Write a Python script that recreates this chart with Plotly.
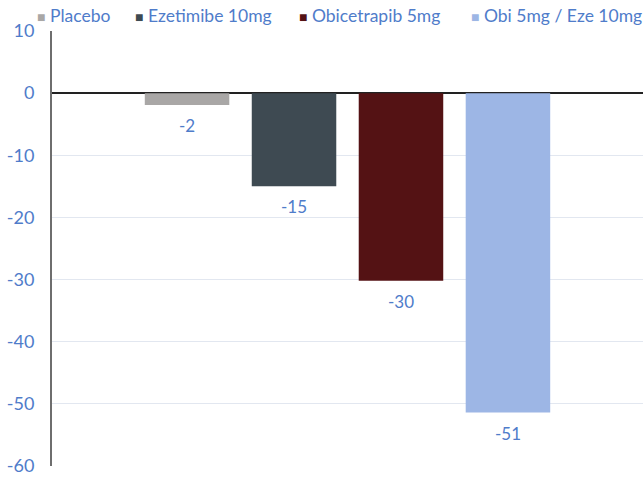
import plotly.graph_objects as go

# treatment arms and LDL-C change (%)
arms = ['Placebo', 'Ezetimibe 10mg', 'Obicetrapib 5mg', 'Obi 5mg / Eze 10mg']
values = [-1.9, -15.0, -30.2, -51.4]
labels = ['-2', '-15', '-30', '-51']
colors = ['#A9A7A6', '#3E4A52', '#541214', '#9DB6E5']

tick_vals = [10, 0, -10, -20, -30, -40, -50, -60]
tick_text = ['10', '0', '-10', '-20', '-30', '-40', '-50', '-60']

BLUE = '#4F7CCA'
W, H = 643, 477
L, R, T, B = 52, 0, 31, 11
PW = W - L - R

fig = go.Figure()
for arm, v, c in zip(arms, values, colors):
    fig.add_trace(go.Bar(x=[''], y=[v], name=arm, showlegend=False,
                         marker=dict(color=c, line=dict(width=0))))

# value labels under each bar
for i, (v, t) in enumerate(zip(values, labels)):
    fig.add_annotation(x=(i - 1.5) * 0.181, xref='x', y=v, yref='y', text=t,
                       showarrow=False, yanchor='top', yshift=-8,
                       font=dict(family='Lato', size=17, color=BLUE))

# legend row drawn as text, like the Excel-style legend in the source
legend_px = [35, 133, 297, 469]
for px, arm, c in zip(legend_px, arms, colors):
    fig.add_annotation(x=(px - L) / PW, xref='paper', y=1, yref='paper',
                       yanchor='bottom', xanchor='left', yshift=3, showarrow=False,
                       text=f'<span style="color:{c};font-size:14px">■</span> {arm}',
                       font=dict(family='Lato', size=17.5, color=BLUE))

fig.update_layout(
    width=W, height=H,
    margin=dict(l=L, r=R, t=T, b=B, autoexpand=False),
    paper_bgcolor='white', plot_bgcolor='white',
    barmode='group', bargap=0.276, bargroupgap=0.21,
    font=dict(family='Lato', color=BLUE),
    showlegend=False,
    xaxis=dict(showticklabels=False, showgrid=False, zeroline=False, showline=False,
               type='category'),
    yaxis=dict(range=[-60, 10], tickvals=tick_vals, ticktext=tick_text,
               showgrid=True, gridcolor='#E2E7F0',
               gridwidth=1, zeroline=True, zerolinecolor='#222222', zerolinewidth=1.5,
               showline=True, linecolor='#6E6E6E', linewidth=2,
               tickfont=dict(family='Lato', size=18, color=BLUE), ticks='',
               ticklabelstandoff=12, automargin=False),
)

# drop the browser's default body margin so the figure sits at the page corner
fig.write_html('out.html', config={'displayModeBar': False},
               post_script="document.body.style.margin='0';")
